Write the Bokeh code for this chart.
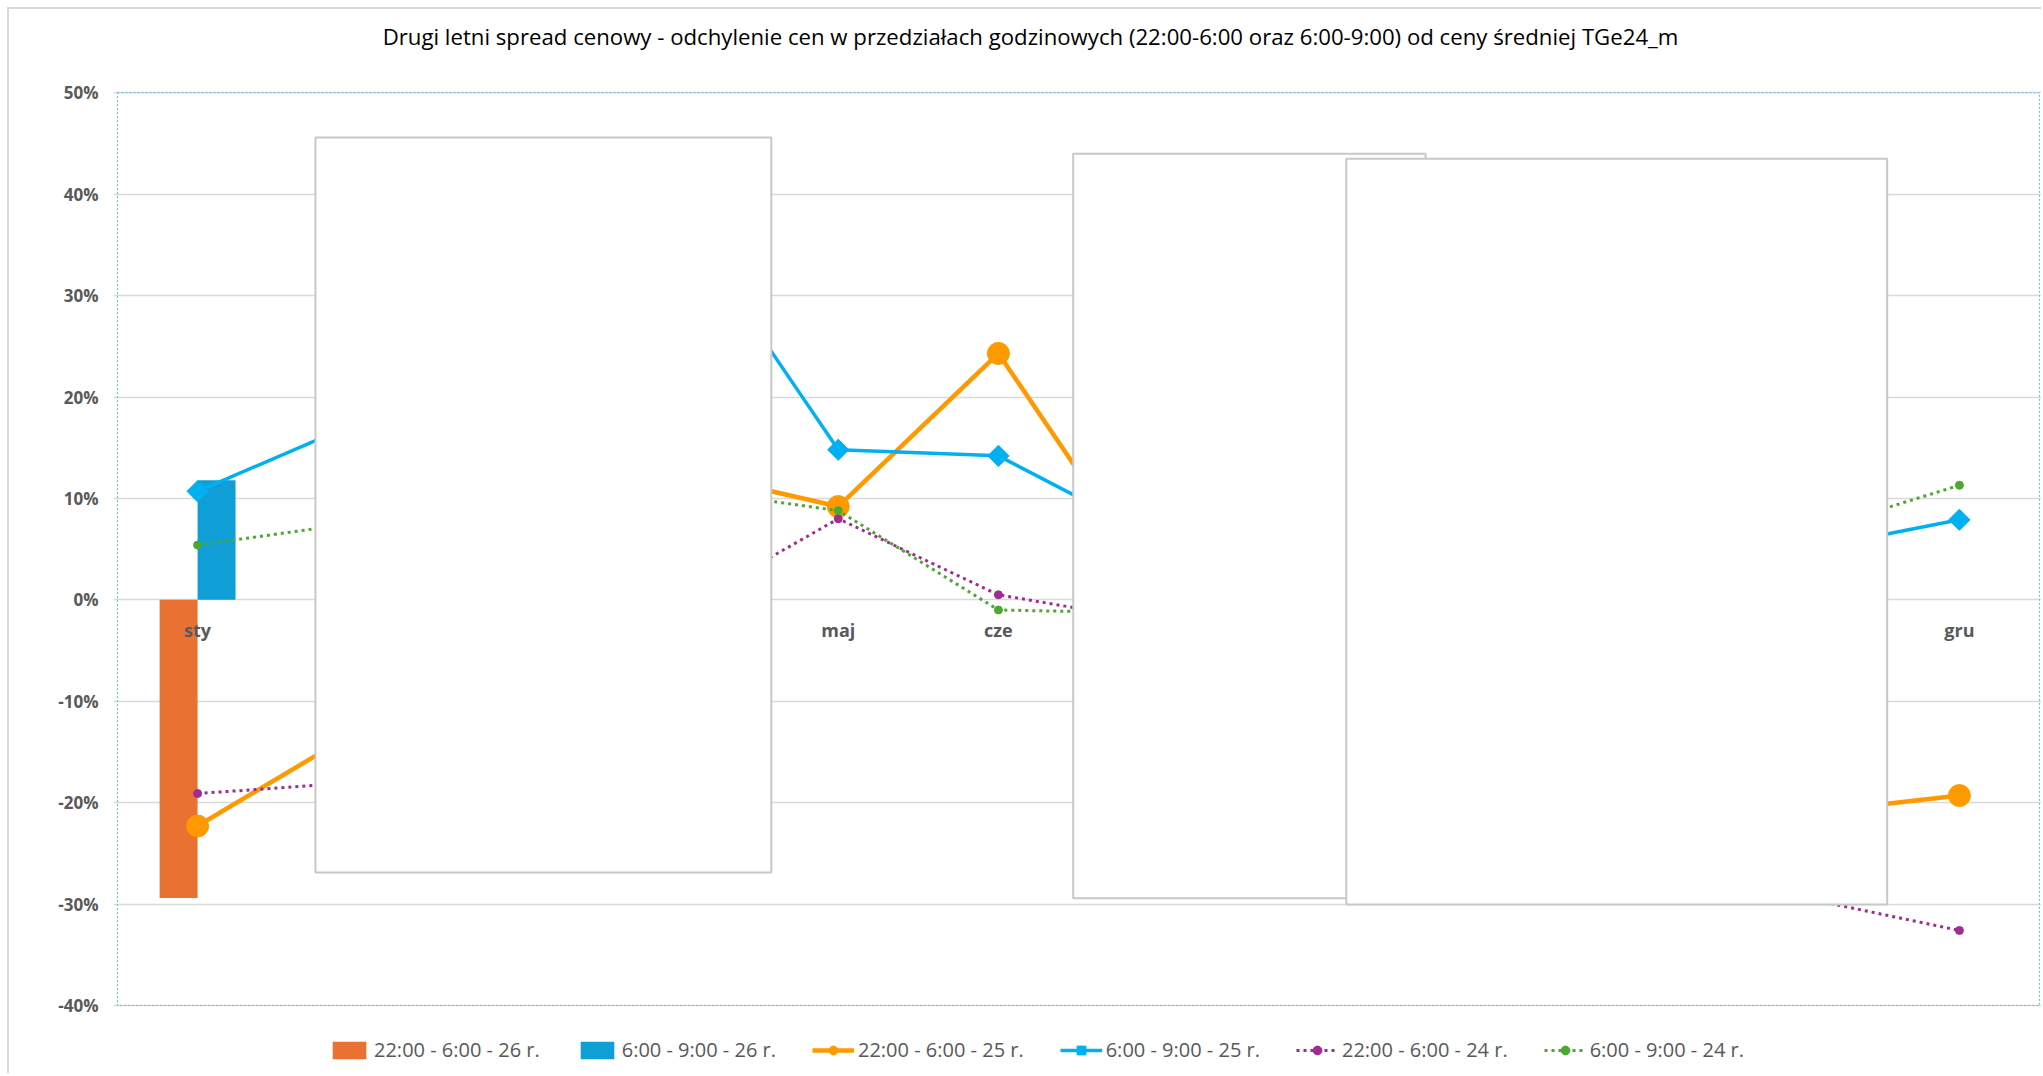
import numpy as np
from bokeh.plotting import figure
from bokeh.models import (ColumnDataSource, FactorRange, FixedTicker, Legend, LegendItem,
                          Label, BoxAnnotation)
from bokeh.transform import dodge
from bokeh.core.properties import value
from bokeh.embed import file_html
from bokeh.resources import INLINE

nan = float("nan")

months = ["sty", "lut", "mar", "kwi", "maj", "cze", "lip", "sie", "wrz", "paź", "lis", "gru"]

# 26 r. (bars) - only January available
night_26 = [-29.4, nan, nan, nan, nan, nan, nan, nan, nan, nan, nan, nan]
morning_26 = [11.8, nan, nan, nan, nan, nan, nan, nan, nan, nan, nan, nan]

# 25 r. (solid lines)
night_25 = [-22.3, -12.9, -3.0, 12.8, 9.2, 24.3, 1.0, -6.0, -10.0, -15.0, -21.1, -19.3]
morning_25 = [10.7, 17.5, 27.0, 38.0, 14.8, 14.2, 6.0, 8.0, 10.0, 6.0, 4.8, 7.9]

# 24 r. (dotted lines)
night_24 = [-19.1, -18.0, -9.0, -1.0, 8.0, 0.5, -2.2, -8.0, -15.0, -22.0, -29.3, -32.6]
morning_24 = [5.4, 7.6, 9.5, 11.0, 8.8, -1.0, -1.3, 2.0, 4.0, 6.0, 6.4, 11.3]

y_ticks = [-40, -30, -20, -10, 0, 10, 20, 30, 40, 50]
y_min, y_max = -40, 50

title_text = ("Drugi letni spread cenowy - odchylenie cen w przedziałach godzinowych "
              "(22:00-6:00 oraz 6:00-9:00) od ceny średniej TGe24_m")
labels = ["22:00 - 6:00 - 26 r.", "6:00 - 9:00 - 26 r.", "22:00 - 6:00 - 25 r.",
          "6:00 - 9:00 - 25 r.", "22:00 - 6:00 - 24 r.", "6:00 - 9:00 - 24 r."]

src = ColumnDataSource(dict(month=months, n26=night_26, m26=morning_26,
                            n25=night_25, m25=morning_25, n24=night_24, m24=morning_24))

FONT = "Open Sans"
GRAY = "#595959"

# the frame spans the full canvas height so that title and legend (drawn inside it)
# are not clipped; the visible value axis is -40%..50%
p = figure(x_range=FactorRange(*months, range_padding=0.025, range_padding_units="absolute"),
           y_range=(-46.903, 58.214), width=2034, height=1066,
           output_backend="svg", toolbar_location=None, x_axis_location=None,
           min_border_left=104, min_border_right=0, min_border_top=0, min_border_bottom=0)
p.styles = {"margin-left": "7px", "margin-top": "7px",
            "border-left": "2px solid #d9d9d9", "border-top": "2px solid #d9d9d9"}
p.background_fill_color = "white"
p.border_fill_color = "white"
p.outline_line_color = None

ticker = FixedTicker(ticks=y_ticks)
p.yaxis.ticker = ticker
p.yaxis.major_label_overrides = {t: f"{t}%" for t in y_ticks}
p.yaxis.axis_line_color = None
p.yaxis.major_tick_line_color = None
p.yaxis.minor_tick_line_color = None
p.yaxis.major_tick_out = 0
p.yaxis.major_tick_in = 0
p.yaxis.minor_tick_out = 0
p.yaxis.major_label_standoff = 15
p.yaxis.major_label_text_font = FONT
p.yaxis.major_label_text_font_style = "bold"
p.yaxis.major_label_text_font_size = "17px"
p.yaxis.major_label_text_color = GRAY
p.ygrid.ticker = ticker
p.ygrid.grid_line_color = "#d9d9d9"
p.ygrid.grid_line_width = 1.5
p.xgrid.grid_line_color = None

bw = 0.237
b1 = p.vbar(x=dodge("month", -bw / 2, range=p.x_range), top="n26", width=bw, source=src,
            fill_color="#E97132", line_color=None)
b2 = p.vbar(x=dodge("month", bw / 2, range=p.x_range), top="m26", width=bw, source=src,
            fill_color="#0F9ED5", line_color=None)

p.text(x="month", y=0, text="month", source=src, text_font=value(FONT),
       text_font_style="bold", text_font_size="18px", text_color=GRAY,
       text_align="center", text_baseline="middle", y_offset=30)

l1 = p.line("month", "n25", source=src, line_color="#FF9900", line_width=4.5)
s1 = p.scatter("month", "n25", source=src, marker="circle", size=22,
               fill_color="#FF9900", line_color="#FF9900")
l2 = p.line("month", "m25", source=src, line_color="#00B0F0", line_width=3.5)
s2 = p.scatter("month", "m25", source=src, marker="square", angle=np.pi / 4, size=15,
               fill_color="#00B0F0", line_color="#00B0F0")
l3 = p.line("month", "n24", source=src, line_color="#A02B93", line_width=3, line_dash="3 4")
s3 = p.scatter("month", "n24", source=src, marker="circle", size=8,
               fill_color="#A02B93", line_color="#A02B93")
l4 = p.line("month", "m24", source=src, line_color="#4EA72E", line_width=3, line_dash="3 4")
s4 = p.scatter("month", "m24", source=src, marker="circle", size=8,
               fill_color="#4EA72E", line_color="#4EA72E")

# dotted plot-area border
p.add_layout(BoxAnnotation(left=0, right=len(months), top=y_max, bottom=y_min,
                           fill_alpha=0, line_color="#4fc3f7", line_alpha=1.0,
                           line_width=1, line_dash="2 2"))

# white overlay panels covering parts of the chart
for (lft, rgt, top, bot) in [(1.236, 4.082, 45.59, -26.89),
                             (5.967, 8.167, 43.98, -29.43),
                             (7.672, 11.049, 43.49, -30.05)]:
    p.add_layout(BoxAnnotation(left=lft, right=rgt, top=top, bottom=bot,
                               fill_color="white", fill_alpha=1.0,
                               line_color="#c8c8c8", line_alpha=1.0, line_width=2))

legend = Legend(items=[
    LegendItem(label=labels[0], renderers=[b1]),
    LegendItem(label=labels[1], renderers=[b2]),
    LegendItem(label=labels[2], renderers=[l1, s1]),
    LegendItem(label=labels[3], renderers=[l2, s2]),
    LegendItem(label=labels[4], renderers=[l3, s3]),
    LegendItem(label=labels[5], renderers=[l4, s4]),
], orientation="horizontal", location=(215, 12), glyph_width=42, glyph_height=22,
    label_height=22, label_standoff=4, spacing=36, padding=0, margin=0,
    border_line_color=None, background_fill_alpha=0, label_text_font=FONT,
    label_text_font_size="20px", label_text_color=GRAY)
p.add_layout(legend, "center")

p.add_layout(Label(x=917, y=1039, x_units="screen", y_units="screen", text=title_text,
                   text_align="center", text_baseline="middle", text_font=FONT,
                   text_font_size="22.2px", text_color="#000000"))

open("out.html", "w").write(file_html(p, INLINE))
